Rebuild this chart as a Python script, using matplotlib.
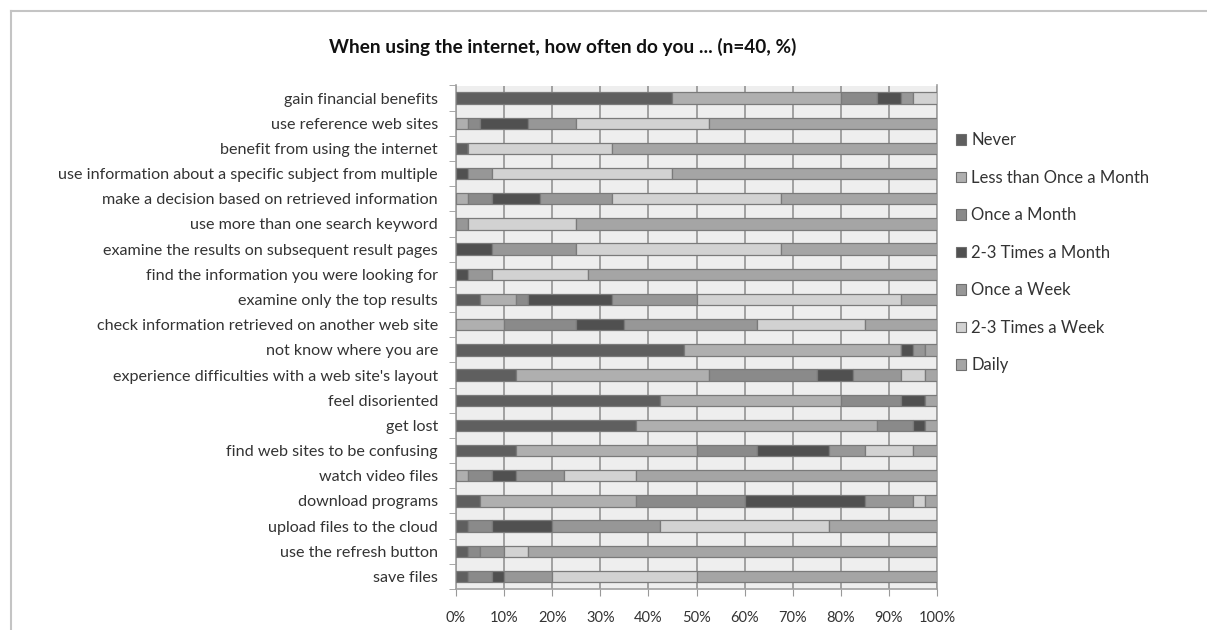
import numpy as np
import matplotlib
matplotlib.use("Agg")
import matplotlib.pyplot as plt
from matplotlib.patches import Patch
from matplotlib.lines import Line2D

plt.rcParams['font.family'] = ['Lato', 'DejaVu Sans']

questions = [
    "gain financial benefits",
    "use reference web sites",
    "benefit from using the internet",
    "use information about a specific subject from multiple",
    "make a decision based on retrieved information",
    "use more than one search keyword",
    "examine the results on subsequent result pages",
    "find the information you were looking for",
    "examine only the top results",
    "check information retrieved on another web site",
    "not know where you are",
    "experience difficulties with a web site's layout",
    "feel disoriented",
    "get lost",
    "find web sites to be confusing",
    "watch video files",
    "download programs",
    "upload files to the cloud",
    "use the refresh button",
    "save files",
]

# percent of respondents (n=40) per answer
never          = [45, 0, 2.5, 0, 0, 0, 0, 0, 5, 0, 47.5, 12.5, 42.5, 37.5, 12.5, 0, 5, 2.5, 2.5, 2.5]
less_monthly   = [35, 2.5, 0, 0, 2.5, 0, 0, 0, 7.5, 10, 45, 40, 37.5, 50, 37.5, 2.5, 32.5, 0, 0, 0]
once_month     = [7.5, 2.5, 0, 0, 5, 0, 0, 0, 2.5, 15, 0, 22.5, 12.5, 7.5, 12.5, 5, 22.5, 5, 2.5, 5]
times_month    = [5, 10, 0, 2.5, 10, 0, 7.5, 2.5, 17.5, 10, 2.5, 7.5, 5, 2.5, 15, 5, 25, 12.5, 0, 2.5]
once_week      = [2.5, 10, 0, 5, 15, 2.5, 17.5, 5, 17.5, 27.5, 2.5, 10, 0, 0, 7.5, 10, 10, 22.5, 5, 10]
times_week     = [5, 27.5, 30, 37.5, 35, 22.5, 42.5, 20, 42.5, 22.5, 0, 5, 0, 0, 10, 15, 2.5, 35, 5, 30]
daily          = [0, 47.5, 67.5, 55, 32.5, 75, 32.5, 72.5, 7.5, 15, 2.5, 2.5, 2.5, 2.5, 5, 62.5, 2.5, 22.5, 85, 50]

series_names = ["Never", "Less than Once a Month", "Once a Month", "2-3 Times a Month",
                "Once a Week", "2-3 Times a Week", "Daily"]
series = [never, less_monthly, once_month, times_month, once_week, times_week, daily]
colors = ["#5f5f5f", "#afafaf", "#8a8a8a", "#505050", "#979797", "#d2d2d2", "#a5a5a5"]

fig = plt.figure(figsize=(12.07, 6.3), dpi=100)
ax = fig.add_axes([456 / 1207, 1 - 589 / 630, 481 / 1207, 503.5 / 630])
ax.set_facecolor("#eeeeee")

y = np.arange(len(questions))
left = np.zeros(len(questions))
for name, vals, col in zip(series_names, series, colors):
    vals = np.array(vals)
    ax.barh(y, vals, left=left, height=0.45, color=col, edgecolor="#7a7a7a",
            linewidth=0.9, label=name, zorder=3)
    left += vals

ax.set_xlim(0, 100)
ax.set_ylim(len(questions) - 0.5, -0.5)
ax.set_xticks(np.arange(0, 101, 10))
ax.set_xticklabels([f"{v}%" for v in range(0, 101, 10)], fontsize=10.5, color="#333333")
ax.set_yticks(y)
ax.set_yticklabels(questions, fontsize=11.6, color="#333333")
ax.set_yticks(np.arange(-0.5, len(questions), 1), minor=True)
ax.tick_params(axis="y", which="major", length=0, pad=13)
ax.tick_params(axis="y", which="minor", length=5, color="#999999", direction="out")
ax.tick_params(axis="x", length=5, color="#999999", pad=11)
ax.grid(axis="x", color="#a0a0a0", linewidth=1.4, zorder=1)
ax.spines["top"].set_visible(False)
for s in ["left", "bottom", "right"]:
    ax.spines[s].set_color("#a0a0a0")
    ax.spines[s].set_linewidth(1.2)

fig.text(563 / 1207, 1 - 47 / 630, "When using the internet, how often do you ... (n=40, %)",
         ha="center", va="center", fontsize=13.7, fontweight="bold", color="#111111")

handles = [Patch(facecolor=c, edgecolor="#6f6f6f", linewidth=0.8) for c in colors]
fig.legend(handles, series_names, loc="upper left", bbox_to_anchor=(948 / 1207, 1 - 124 / 630),
           frameon=False, fontsize=12, handlelength=0.6, handleheight=0.6,
           handletextpad=0.3, labelspacing=1.29, borderpad=0, labelcolor="#333333")

# chart area border
fig.add_artist(Line2D([11 / 1207, 11 / 1207], [0, 1 - 11 / 630], color="#c4c4c4", lw=1.5))
fig.add_artist(Line2D([11 / 1207, 1], [1 - 11 / 630, 1 - 11 / 630], color="#c4c4c4", lw=1.5))

fig.savefig("out.png", dpi=100)
